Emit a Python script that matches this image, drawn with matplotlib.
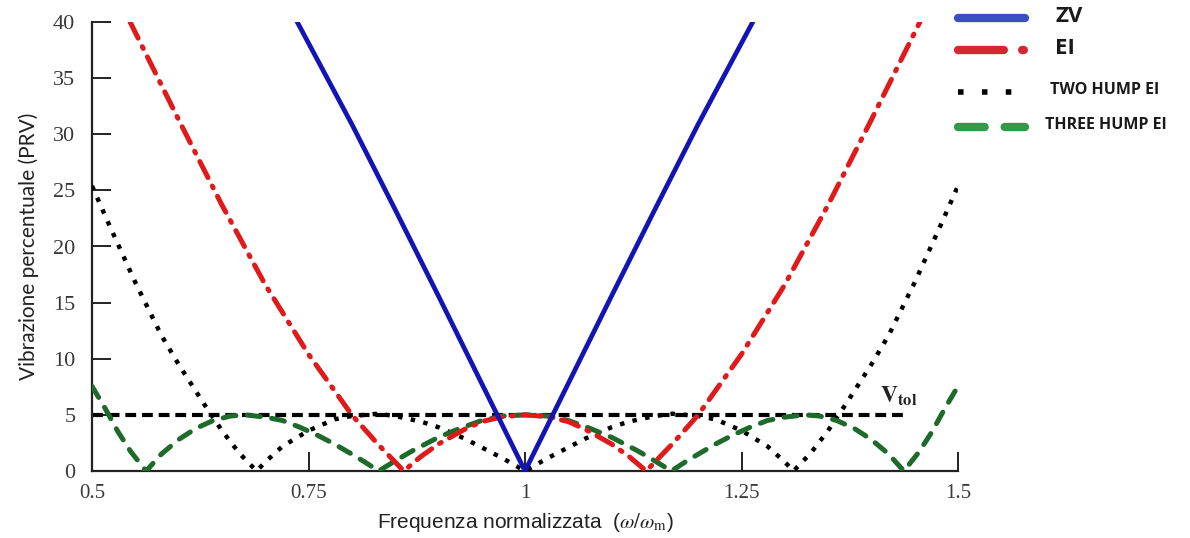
import matplotlib
matplotlib.use("Agg")
import matplotlib.pyplot as plt
from matplotlib.lines import Line2D

# ---- data ----
zv_x = [0.737, 0.80, 0.85, 0.90, 0.95, 1.00, 1.05, 1.10, 1.15, 1.20, 1.263]
zv_y = [40.0, 30.9, 23.3, 15.6, 7.8, 0.0, 7.8, 15.6, 23.3, 30.9, 40.0]

ei_x = [0.544, 0.60, 0.65, 0.70, 0.75, 0.80, 0.83, 0.86, 0.88, 0.90, 0.93, 0.95, 0.975,
        1.00, 1.025, 1.05, 1.07, 1.10, 1.12, 1.14, 1.17, 1.20, 1.25, 1.30, 1.35, 1.40, 1.456]
ei_y = [40.0, 31.3, 23.7, 16.6, 10.4, 5.0, 2.4, 0.0, 1.3, 2.4, 3.7, 4.4, 4.85,
        5.0, 4.85, 4.4, 3.7, 2.4, 1.3, 0.0, 2.4, 5.0, 10.4, 16.6, 23.7, 31.3, 40.0]

two_x = [0.50, 0.52, 0.55, 0.58, 0.60, 0.63, 0.65, 0.67, 0.69, 0.70, 0.72, 0.75, 0.78,
         0.80, 0.83, 0.85, 0.88, 0.90, 0.93, 0.95, 0.975, 1.00, 1.025, 1.05, 1.07, 1.10,
         1.12, 1.15, 1.17, 1.20, 1.22, 1.25, 1.28, 1.30, 1.31, 1.33, 1.35, 1.37, 1.40,
         1.42, 1.45, 1.48, 1.50]
two_y = [25.4, 21.9, 16.8, 12.1, 9.5, 5.9, 3.6, 1.6, 0.0, 0.8, 2.2, 3.6, 4.6,
         4.9, 5.1, 4.9, 4.4, 3.9, 2.9, 2.1, 1.1, 0.0, 1.1, 2.1, 2.9, 3.9,
         4.4, 4.9, 5.1, 4.9, 4.6, 3.6, 2.2, 0.8, 0.0, 1.6, 3.6, 5.9, 9.5,
         12.1, 16.8, 21.9, 25.4]

three_x = [0.50, 0.515, 0.53, 0.545, 0.5625, 0.58, 0.60, 0.62, 0.64, 0.66, 0.677, 0.70,
           0.72, 0.74, 0.76, 0.78, 0.80, 0.815, 0.831, 0.85, 0.87, 0.90, 0.925, 0.95,
           0.975, 1.00, 1.025, 1.05, 1.075, 1.10, 1.13, 1.15, 1.169, 1.185, 1.20, 1.22,
           1.24, 1.26, 1.28, 1.30, 1.323, 1.34, 1.36, 1.38, 1.40, 1.42, 1.4375, 1.455,
           1.47, 1.485, 1.50]
three_y = [7.55, 5.6, 3.5, 1.7, 0.0, 1.5, 2.8, 3.8, 4.5, 4.9, 5.0, 4.8,
           4.5, 3.9, 3.2, 2.4, 1.5, 0.8, 0.0, 0.9, 1.8, 3.0, 3.8, 4.5,
           4.9, 5.0, 4.9, 4.5, 3.8, 3.0, 1.8, 0.9, 0.0, 0.8, 1.5, 2.4,
           3.2, 3.9, 4.5, 4.8, 5.0, 4.9, 4.5, 3.8, 2.8, 1.5, 0.0, 1.7,
           3.5, 5.6, 7.55]

vtol_x = [0.50, 1.44]
vtol_y = [5.0, 5.0]

xticks = [0.5, 0.75, 1, 1.25, 1.5]
xticklabels = ["0.5", "0.75", "1", "1.25", "1.5"]
yticks = [0, 5, 10, 15, 20, 25, 30, 35, 40]

legend_labels = ["ZV", "EI", "TWO HUMP EI", "THREE HUMP EI"]

# ---- figure ----
plt.rcParams["mathtext.fontset"] = "stix"
fig = plt.figure(figsize=(11.9, 5.38), dpi=100)
ax = fig.add_axes([92 / 1190, 67 / 538, 866 / 1190, 449 / 538])

ax.plot(vtol_x, vtol_y, color="black", lw=3.0, linestyle=(0, (2.6, 1.4)),
        solid_capstyle="butt", dash_capstyle="butt", zorder=2)
ax.plot(two_x, two_y, color="black", lw=3.2, linestyle=(0, (1, 1.9)),
        dash_capstyle="butt", zorder=3)
ax.plot(three_x, three_y, color="#1e6a2a", lw=3.6, linestyle=(0, (2.6, 2.3)),
        dash_capstyle="round", zorder=4)
ax.plot(ei_x, ei_y, color="#e01a1a", lw=3.6, linestyle=(0, (3.6, 1.9, 0.4, 1.9)),
        dash_capstyle="round", zorder=5)
ax.plot(zv_x, zv_y, color="#1414b4", lw=3.4, solid_capstyle="round", zorder=6)

ax.text(1.41, 5.6, r"$\mathbf{V}_{\mathbf{tol}}$", fontsize=17, color="#222222",
        ha="left", va="bottom")

ax.set_xlim(0.5, 1.5)
ax.set_ylim(0, 40)
ax.spines["top"].set_visible(False)
ax.spines["right"].set_visible(False)
for s in ("left", "bottom"):
    ax.spines[s].set_linewidth(1.6)
    ax.spines[s].set_color("#222222")

ax.set_xticks(xticks)
ax.set_xticklabels(xticklabels)
ax.set_yticks(yticks)
ax.tick_params(axis="both", direction="in", length=14, width=1.4, color="#222222")
ax.tick_params(axis="y", pad=12)
ax.tick_params(axis="x", pad=9)
for lab in ax.get_yticklabels():
    lab.set_fontfamily("Liberation Serif")
    lab.set_fontsize(16)
    lab.set_color("#3a3a3a")
for lab in ax.get_xticklabels():
    lab.set_fontfamily("Liberation Serif")
    lab.set_fontsize(15)
    lab.set_color("#3a3a3a")

ax.set_xlabel(r"Frequenza normalizzata  ($\omega/\omega_{\rm m}$)",
              family=["Liberation Sans Narrow", "Liberation Sans"], fontsize=15,
              color="#222222", labelpad=6)
ax.set_ylabel("Vibrazione percentuale (PRV)", family=["Lato", "DejaVu Sans"],
              fontsize=15, color="#222222", labelpad=10)

# ---- legend (drawn outside the axes, top right) ----
def fx(px):
    return px / 1190

def fy(py):
    return 1 - py / 538

leg_styles = [
    dict(color="#3b4fc4", lw=6, linestyle="-", solid_capstyle="round"),
    dict(color="#d62630", lw=6, linestyle=(0, (5.5, 2.2, 0.2, 2.2)), dash_capstyle="round"),
    dict(color="black", lw=4, linestyle=(0, (1, 3.3)), dash_capstyle="butt"),
    dict(color="#2f9a48", lw=6, linestyle=(0, (3.2, 2.4)), dash_capstyle="round"),
]
leg_y = [18, 50, 92, 127]
leg_text_x = [1055, 1055, 1050, 1045]
leg_sizes = [16, 16, 11.5, 11.5]
for lab, st, yy, tx, fs in zip(legend_labels, leg_styles, leg_y, leg_text_x, leg_sizes):
    fig.add_artist(Line2D([fx(958), fx(1025)], [fy(yy), fy(yy)],
                          transform=fig.transFigure, **st))
    fig.text(fx(tx), fy(yy - 2), lab, fontsize=fs, fontweight="bold",
             family=["Open Sans", "DejaVu Sans"], color="#1a1a1a",
             ha="left", va="center")

fig.savefig("out.png", dpi=100)
